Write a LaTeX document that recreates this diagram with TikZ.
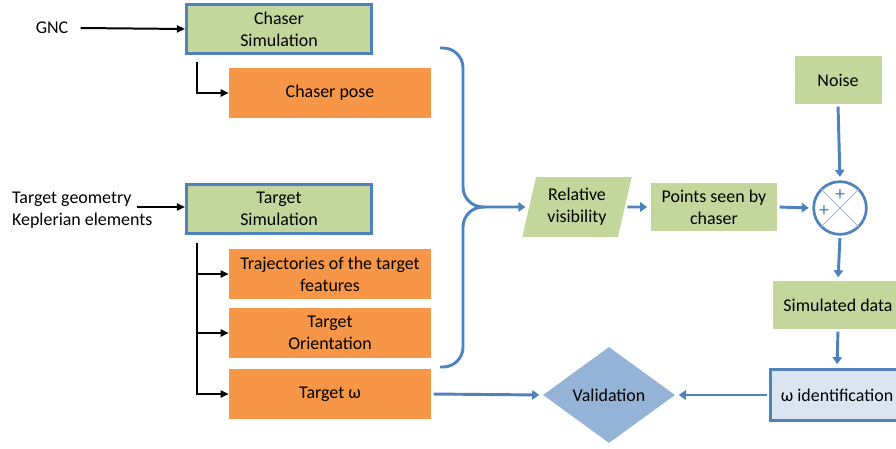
\documentclass[tikz,border=0pt]{standalone}
\usepackage{fontspec}
\setmainfont{Carlito}
\usetikzlibrary{shapes.geometric,arrows.meta}
\definecolor{simgreen}{HTML}{C3D69B}
\definecolor{outorange}{HTML}{F79646}
\definecolor{frameblue}{HTML}{4F81BD}
\definecolor{valblue}{HTML}{95B3D7}
\definecolor{idblue}{HTML}{DBE5F1}
\definecolor{xgrey}{HTML}{A6B8CF}

\begin{document}
\begin{tikzpicture}[x=0.03cm,y=-0.03cm,
    font=\fontsize{15.3}{19}\selectfont,
    simbox/.style={draw=frameblue,fill=simgreen,line width=2.5pt,minimum width=5.55cm,minimum height=1.47cm,align=center},
    outbox/.style={fill=outorange,minimum width=6.06cm,minimum height=1.5cm,align=center},
    grnbox/.style={fill=simgreen,align=center},
    blkarrow/.style={line width=1.7pt,-{Triangle[length=7pt,width=6pt]}},
    bluarrow/.style={draw=frameblue,line width=2.5pt,-{Triangle[length=6pt,width=8pt]},shorten <=2pt,shorten >=3pt}]
\useasboundingbox (0,0) rectangle (896,449);
\clip (0,0) rectangle (896,449);

\node (gnc) at (52,28) {GNC};
    \node[simbox] (chsim) at (279,29) {Chaser\\Simulation};
    \node[outbox] (chpose) at (330,93) {Chaser pose};
    \coordinate (cb) at (197,62);

\node[align=left,anchor=west] (tgeo) at (8,210) {Target geometry\\Keplerian elements};
    \coordinate (tin) at (137,207);
    \node[simbox] (tsim) at (279,209) {Target\\Simulation};
    \node[outbox] (traj) at (330,274) {Trajectories of the target\\features};
    \node[outbox] (orient) at (330,333) {Target\\Orientation};
    \node[outbox] (tomega) at (330,394) {Target ω};
    \coordinate (tb) at (197,243);

\coordinate (bt) at (485,207);
    \node[grnbox,shape=trapezium,trapezium left angle=76,trapezium right angle=104,trapezium stretches=true,minimum width=3.3cm,minimum height=1.8cm] (relvis) at (577,207) {Relative\\visibility};
    \node[grnbox,minimum width=3.78cm,minimum height=1.44cm] (points) at (714,207) {Points seen by\\chaser};
    \node[grnbox,minimum width=2.61cm,minimum height=1.44cm] (noise) at (838,80) {Noise};
    \node[circle,draw=frameblue,fill=white,line width=2.3pt,minimum size=1.58cm] (sum) at (840,208) {};
    \node[grnbox,minimum width=3.9cm,minimum height=1.44cm] (simdata) at (838,305) {Simulated data};
    \node[draw=frameblue,fill=idblue,line width=2.5pt,minimum width=4cm,minimum height=1.55cm] (omid) at (837,395) {ω identification};
    \node[diamond,fill=valblue,aspect=1.35,inner sep=0pt,minimum width=3.96cm,minimum height=2.88cm] (valid) at (609,395) {Validation};

\draw[xgrey,line width=0.8pt] (sum.north east) -- (sum.south west);
    \draw[xgrey,line width=0.8pt] (sum.north west) -- (sum.south east);
    \node[text=frameblue,font=\fontsize{17}{17}\selectfont] (plusa) at (840,195) {+};
    \node[text=frameblue,font=\fontsize{17}{17}\selectfont] (plusb) at (824,211) {+};

\draw[blkarrow] ([xshift=7pt]gnc.east) -- (chsim.west);
    \draw[blkarrow] (cb) |- (chpose.west);
    \draw[blkarrow] (tin) -- (tin-|tsim.west);
    \draw[blkarrow] (tb) |- (tomega.west);
    \draw[blkarrow] (tb|-traj.west) -- (traj.west);
    \draw[blkarrow] (tb|-orient.west) -- (orient.west);

\draw[frameblue,line width=2.5pt,rounded corners=0.6cm] (440,48) -- (463,48) -- (463,207) -- (bt);
    \draw[frameblue,line width=2.5pt,rounded corners=0.6cm] (440,367) -- (463,367) -- (463,207) -- (bt);
    \draw[bluarrow,shorten <=0pt] (bt) -- (relvis.west);
    \draw[bluarrow] (relvis.east) -- (points.west);
    \draw[bluarrow] (points.east) -- (sum.west);
    \draw[bluarrow] (noise.south) -- (sum.north);
    \draw[bluarrow] (sum.south) -- (simdata.north);
    \draw[bluarrow] (simdata.south) -- (omid.north);
    \draw[bluarrow] (omid.west) -- (valid.east);
    \draw[bluarrow] (tomega.east) -- (valid.west);
\end{tikzpicture}
\end{document}
